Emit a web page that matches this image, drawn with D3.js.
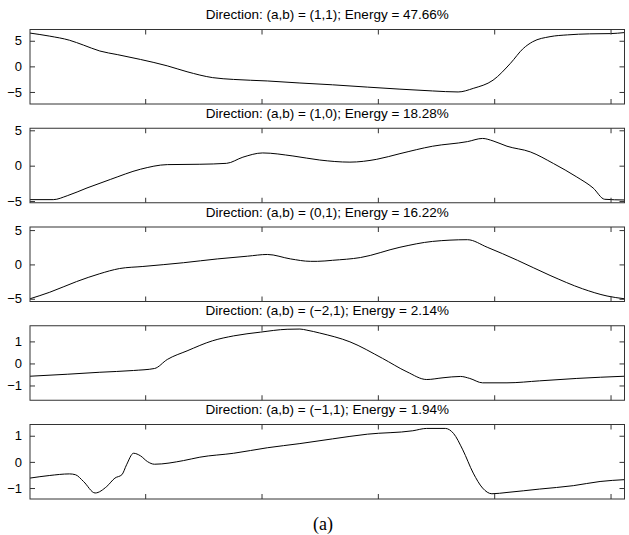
<!DOCTYPE html>
<html><head><meta charset="utf-8">
<script src="https://cdn.jsdelivr.net/npm/d3@7"></script>
<style>body{margin:0;background:#fff}svg{display:block}</style>
</head><body>
<svg id="c" width="629" height="535"></svg>
<script>
const titles = [
  "Direction: (a,b) = (1,1); Energy = 47.66%",
  "Direction: (a,b) = (1,0); Energy = 18.28%",
  "Direction: (a,b) = (0,1); Energy = 16.22%",
  "Direction: (a,b) = (\u22122,1); Energy = 2.14%",
  "Direction: (a,b) = (\u22121,1); Energy = 1.94%"
];
const xTicks = [100, 200, 300, 400, 500];
const yTicks = [[-5, 0, 5], [-5, 0, 5], [-5, 0, 5], [-1, 0, 1], [-1, 0, 1]];
const yDomains = [[-7.35, 7.2], [-5.24, 5.29], [-5.4, 5.45], [-1.67, 1.71], [-1.42, 1.43]];
const caption = "(a)";

const s1x = [1, 18, 35, 47, 61, 76, 96, 119, 136, 158, 176, 205, 233, 261, 291, 319, 347, 369, 382, 399, 414, 425, 433, 448, 463, 482, 500, 512];
const s1y = [6.5, 5.9, 5.1, 4.15, 3.0, 2.3, 1.35, 0.1, -1.05, -2.2, -2.55, -2.85, -3.25, -3.6, -4.05, -4.45, -4.8, -5.0, -4.3, -2.7, 0.6, 3.5, 4.8, 5.8, 6.15, 6.35, 6.4, 6.6];

const s2x = [1, 21, 33, 50, 70, 96, 119, 147, 170, 184, 201, 227, 250, 276, 299, 319, 347, 377, 390, 399, 411, 431, 451, 471, 485, 495, 512];
const s2y = [-4.8, -4.8, -4.25, -3.15, -1.95, -0.5, 0.15, 0.2, 0.33, 1.2, 1.8, 1.37, 0.8, 0.5, 0.9, 1.7, 2.75, 3.4, 3.85, 3.5, 2.75, 1.95, 0.3, -1.6, -3.15, -4.75, -4.85];

const s3x = [1, 18, 41, 61, 78, 98, 133, 162, 188, 205, 225, 242, 248, 261, 285, 319, 347, 377, 394, 420, 448, 476, 497, 512];
const s3y = [-5.0, -4.05, -2.5, -1.35, -0.6, -0.3, 0.25, 0.8, 1.2, 1.45, 0.8, 0.45, 0.45, 0.6, 1.0, 2.5, 3.35, 3.6, 2.5, 0.6, -1.6, -3.55, -4.6, -5.0];

const s4x = [1, 33, 61, 90, 108, 119, 136, 158, 176, 199, 222, 233, 239, 250, 276, 304, 325, 342, 356, 371, 379, 390, 411, 439, 471, 512];
const s4y = [-0.58, -0.49, -0.4, -0.32, -0.23, 0.18, 0.57, 1.03, 1.25, 1.42, 1.55, 1.56, 1.51, 1.38, 0.98, 0.23, -0.38, -0.73, -0.65, -0.59, -0.68, -0.88, -0.88, -0.79, -0.68, -0.58];

const s5x = [1, 18, 35, 40, 47, 57, 67, 74, 80, 84, 90, 96, 102, 108, 133, 147, 176, 205, 233, 261, 291, 330, 342, 358, 365, 373, 382, 390, 398, 411, 439, 468, 491, 512];
const s5y = [-0.62, -0.52, -0.46, -0.49, -0.75, -1.19, -0.94, -0.62, -0.49, -0.11, 0.33, 0.23, 0.01, -0.09, 0.05, 0.18, 0.33, 0.54, 0.7, 0.88, 1.06, 1.19, 1.28, 1.28, 1.09, 0.46, -0.43, -1.0, -1.22, -1.17, -1.04, -0.91, -0.75, -0.68];

const series = [[s1x, s1y], [s2x, s2y], [s3x, s3y], [s4x, s4y], [s5x, s5y]];

const svg = d3.select("#c");
const left = 30, right = 624.5, ph = 74.5, step = 98.75, top0 = 29.5;
const x = d3.scaleLinear().domain([1, 512]).range([left, right]);
const font = "'Liberation Sans', Arial, Helvetica, sans-serif";
const fmt = v => (v < 0 ? "\u2212" + Math.abs(v) : String(v));

series.forEach((s, i) => {
  const t = top0 + i * step;
  const y = d3.scaleLinear().domain(yDomains[i]).range([t + ph, t]);
  const g = svg.append("g");
  g.append("text").attr("x", (left + right) / 2).attr("y", t - 10.5)
    .attr("text-anchor", "middle").attr("font-family", font).attr("font-size", 13.5)
    .attr("fill", "#000").text(titles[i]);
  const data = s[0].map((xv, k) => [xv, s[1][k]]);
  g.append("path").datum(data)
    .attr("d", d3.line().x(d => x(d[0])).y(d => y(d[1])).curve(d3.curveMonotoneX))
    .attr("fill", "none").attr("stroke", "#000").attr("stroke-width", 1);
  const axL = d3.axisLeft(y).tickValues(yTicks[i]).tickSizeInner(-5).tickSizeOuter(0).tickPadding(8).tickFormat(fmt);
  const gl = g.append("g").attr("transform", `translate(${left},0)`).call(axL);
  gl.select(".domain").remove();
  gl.selectAll("text").attr("font-family", font).attr("font-size", 13).attr("fill", "#000");
  gl.selectAll("line").attr("stroke", "#333");
  const axR = d3.axisRight(y).tickValues(yTicks[i]).tickSizeInner(-5).tickSizeOuter(0).tickFormat("");
  const gr = g.append("g").attr("transform", `translate(${right},0)`).call(axR);
  gr.select(".domain").remove(); gr.selectAll("line").attr("stroke", "#333");
  const axB = d3.axisBottom(x).tickValues(xTicks).tickSizeInner(-5).tickSizeOuter(0).tickFormat("");
  const gb = g.append("g").attr("transform", `translate(0,${t + ph})`).call(axB);
  gb.select(".domain").remove(); gb.selectAll("line").attr("stroke", "#333");
  const axT = d3.axisTop(x).tickValues(xTicks).tickSizeInner(-5).tickSizeOuter(0).tickFormat("");
  const gt = g.append("g").attr("transform", `translate(0,${t})`).call(axT);
  gt.select(".domain").remove(); gt.selectAll("line").attr("stroke", "#333");
  g.append("rect").attr("x", left).attr("y", t).attr("width", right - left).attr("height", ph)
    .attr("fill", "none").attr("stroke", "#333").attr("stroke-width", 1);
});

svg.append("text").attr("x", 323).attr("y", 530).attr("text-anchor", "middle")
  .attr("font-family", "'Liberation Serif', 'Times New Roman', serif").attr("font-size", 18)
  .attr("fill", "#000").text(caption);
</script>
</body></html>
